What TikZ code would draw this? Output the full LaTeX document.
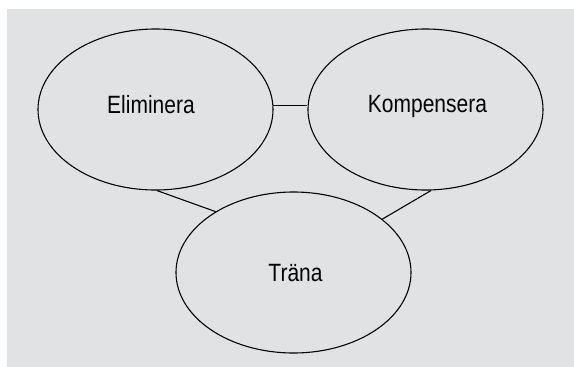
\documentclass[tikz,border=0pt]{standalone}
\usepackage{fontspec}
\setmainfont[FakeStretch=0.84]{Liberation Sans}
\usetikzlibrary{shapes.geometric}
\definecolor{bggray}{RGB}{225,226,228}
\tikzset{
  oval/.style={ellipse, draw=black, line width=1.1pt, minimum width=235pt, minimum height=161pt, inner sep=0pt},
  lbl/.style={anchor=base, inner sep=0pt, font=\fontsize{25}{30}\selectfont},
  conn/.style={draw=black, line width=1.1pt}
}
\begin{document}
\begin{tikzpicture}[x=1pt,y=-1pt]
\useasboundingbox (0,0) rectangle (574,367);
\fill[bggray] (7,9) rectangle (574,367);
\node[oval] (elim) at (155.5,109.5) {};
\node[oval] (komp) at (425.5,109.5) {};
\node[oval] (trana) at (293.5,272.5) {};
\node[lbl] (telim) at (151,113) {Eliminera};
\node[lbl] (tkomp) at (427.5,112) {Kompensera};
\node[lbl] (ttrana) at (295.5,281) {Träna};
\draw[conn] (elim.2.7) -- (elim.2.7 -| komp.west);
\draw[conn] (elim.271.8) -- (trana.142.4);
\draw[conn] (trana.31.2) -- (komp.274.6);
\end{tikzpicture}
\end{document}
